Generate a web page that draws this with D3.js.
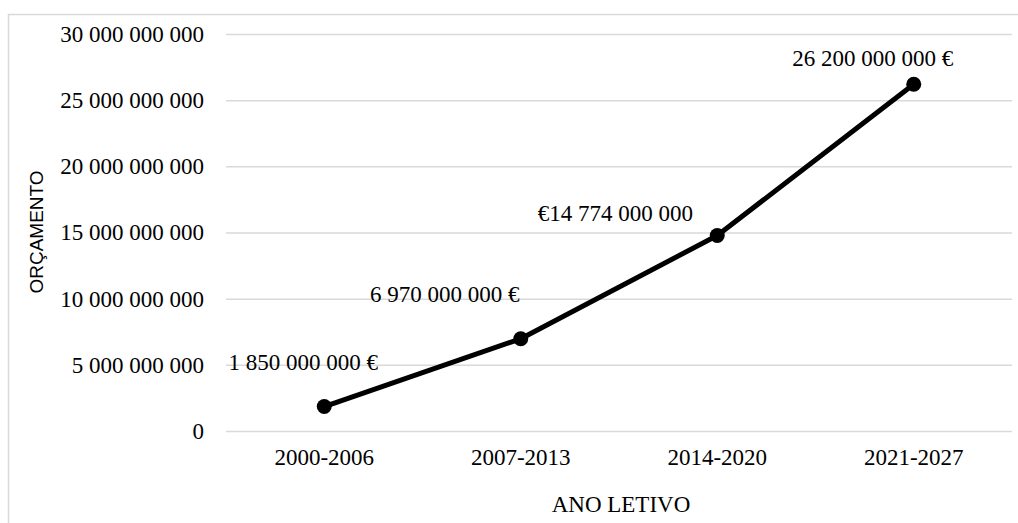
<!DOCTYPE html>
<html>
<head>
<meta charset="utf-8">
<script src="https://cdn.jsdelivr.net/npm/d3@7"></script>
<style>
  body { margin: 0; background: #fff; font-family: "Liberation Serif", serif; }
  svg { display: block; }
  svg text { font-family: "Liberation Serif", serif; font-size: 23px; fill: #000; }
  svg text.y-title { font-family: "Liberation Sans", sans-serif; font-size: 19px; }
</style>
</head>
<body>
<svg id="chart"></svg>
<script>
const periods = ["2000-2006", "2007-2013", "2014-2020", "2021-2027"];
const budget = [1850000000, 6970000000, 14774000000, 26200000000];
const budgetLabels = ["1 850 000 000 €", "6 970 000 000 €", "€14 774 000 000", "26 200 000 000 €"];
const yTicks = [0, 5e9, 10e9, 15e9, 20e9, 25e9, 30e9];

const width = 1018;
const height = 523;
const margin = { top: 34, right: 6, bottom: 92, left: 226 };
const innerWidth = width - margin.left - margin.right;
const innerHeight = height - margin.top - margin.bottom;

// label placement relative to each point (dx to text centre, dy to baseline)
const labelOffsets = [[-21, -37], [-76, -37], [-102, -14], [-41, -18]];

const svg = d3.select("#chart")
    .attr("width", width)
    .attr("height", height);

// outer chart border, only left and top edges are visible in the crop
svg.append("path")
    .attr("d", `M8.5,${height}V14.5H${width}`)
    .attr("fill", "none")
    .attr("stroke", "#d9d9d9")
    .attr("stroke-width", 1.5);

const g = svg.append("g")
    .attr("transform", `translate(${margin.left},${margin.top})`);

const x = d3.scaleBand()
    .domain(periods)
    .range([0, innerWidth]);

const y = d3.scaleLinear()
    .domain([0, 30e9])
    .range([innerHeight, 0]);

const fmt = v => d3.format(",")(v).replace(/,/g, " ");

// gridlines + y labels
g.append("g")
    .attr("class", "gridlines-y")
    .call(d3.axisLeft(y)
        .tickValues(yTicks)
        .tickSize(-innerWidth)
        .tickPadding(22)
        .tickFormat(fmt))
    .attr("font-family", null)
    .attr("font-size", null)
    .call(a => a.select(".domain").remove())
    .call(a => a.selectAll("line").attr("stroke", "#d9d9d9").attr("stroke-width", 1.5));

// x labels
g.append("g")
    .attr("transform", `translate(0,${innerHeight})`)
    .call(d3.axisBottom(x).tickSize(0).tickPadding(18))
    .attr("font-family", null)
    .attr("font-size", null)
    .call(a => a.select(".domain").remove());

const points = periods.map((p, i) => ({ period: p, value: budget[i], label: budgetLabels[i], off: labelOffsets[i] }));
const cx = d => x(d.period) + x.bandwidth() / 2;

g.append("path")
    .datum(points)
    .attr("fill", "none")
    .attr("stroke", "#000")
    .attr("stroke-width", 5)
    .attr("stroke-linejoin", "round")
    .attr("d", d3.line().x(cx).y(d => y(d.value)));

g.selectAll("circle")
    .data(points)
    .enter().append("circle")
    .attr("cx", cx)
    .attr("cy", d => y(d.value))
    .attr("r", 7.5)
    .attr("fill", "#000");

g.selectAll(".value-label")
    .data(points)
    .enter().append("text")
    .attr("class", "value-label")
    .attr("x", d => cx(d) + d.off[0])
    .attr("y", d => y(d.value) + d.off[1])
    .attr("text-anchor", "middle")
    .text(d => d.label);

// axis titles
svg.append("text")
    .attr("x", margin.left + innerWidth / 2 + 2)
    .attr("y", 512)
    .attr("text-anchor", "middle")
    .text("ANO LETIVO");

svg.append("text")
    .attr("class", "y-title")
    .attr("transform", "translate(43,232) rotate(-90)")
    .attr("text-anchor", "middle")
    .text("ORÇAMENTO");
</script>
</body>
</html>
